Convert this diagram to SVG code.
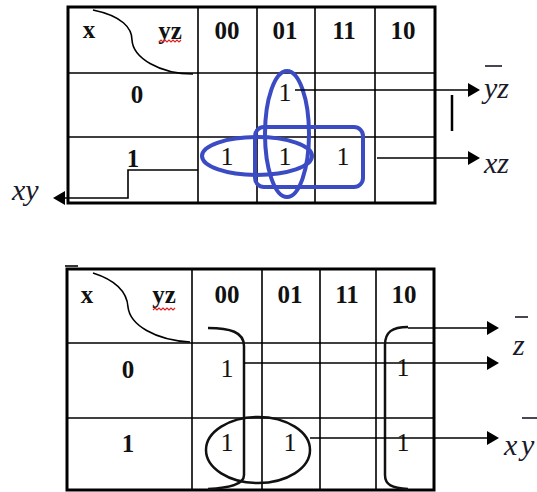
<svg xmlns="http://www.w3.org/2000/svg" width="537" height="492" viewBox="0 0 537 492">
<style>
.outer{fill:none;stroke:#000;stroke-width:3}
.grid{stroke:#000;stroke-width:1.6;fill:none}
.hdr{font-family:"Liberation Serif",serif;font-weight:bold;font-size:25px;fill:#111;text-anchor:middle}
.one{font-family:"Liberation Serif",serif;font-size:26px;fill:#111;text-anchor:middle}
.lbl{font-family:"Liberation Serif",serif;font-style:italic;font-size:30px;fill:#1a1a2a}
.blue{fill:none;stroke:#3a4bc4;stroke-width:4}
.blk{fill:none;stroke:#111;stroke-width:2.5}
.conn{stroke:#000;stroke-width:1.6;fill:none}
.wavy{fill:none;stroke:#e02020;stroke-width:1.2}
.bar{stroke:#1a1a2a;stroke-width:1.6}
</style>
<defs>
<marker id="arr" markerUnits="userSpaceOnUse" markerWidth="12" markerHeight="14" viewBox="0 0 12 14" refX="0" refY="7" orient="auto">
<path d="M0,0 L12,7 L0,14 Z" fill="#000"/>
</marker>
</defs>

<g id="kmap1">
<rect class="outer" x="68" y="7" width="367" height="196"/>
<path class="grid" d="M198,7V203M257,7V203M315,7V203M375,7V203M68,73H435M68,137H435"/>
<path class="grid" d="M93,10 C122,16 132,28 132,40 C133,58 160,74 193,74"/>
<text class="hdr" x="89" y="38">x</text>
<text class="hdr" x="170" y="39">yz</text>
<path class="wavy" d="M159,42 l2,-2 l2,2 l2,-2 l2,2 l2,-2 l2,2 l2,-2 l2,2 l2,-2 l2,2 l2,-2"/>
<text class="hdr" x="227" y="39">00</text>
<text class="hdr" x="285" y="39">01</text>
<text class="hdr" x="344" y="39">11</text>
<text class="hdr" x="403" y="39">10</text>
<text class="hdr" x="137" y="103">0</text>
<text class="hdr" x="133" y="167">1</text>
<text class="one" x="285" y="101">1</text>
<text class="one" x="227" y="165">1</text>
<text class="one" x="285" y="165">1</text>
<text class="one" x="343" y="165">1</text>
</g>

<g id="groups1">
<ellipse class="blue" cx="287" cy="134" rx="22" ry="63"/>
<ellipse class="blue" cx="257" cy="156" rx="55" ry="19"/>
<rect class="blue" x="255" y="127" width="108" height="60" rx="9"/>
</g>

<g id="kmap2">
<rect class="outer" x="67" y="269" width="367" height="221"/>
<path class="grid" d="M65,266H78"/>
<path class="grid" d="M192,269V490M262,269V490M320,269V490M376,269V490M67,343H434M67,418H434"/>
<path class="grid" d="M93,273 C115,280 127,292 128,307 C130,325 155,340 190,342"/>
<text class="hdr" x="87" y="303">x</text>
<text class="hdr" x="164" y="303">yz</text>
<path class="wavy" d="M153,310 l2,-2 l2,2 l2,-2 l2,2 l2,-2 l2,2 l2,-2 l2,2 l2,-2 l2,2 l2,-2"/>
<text class="hdr" x="227" y="303">00</text>
<text class="hdr" x="290" y="303">01</text>
<text class="hdr" x="347" y="303">11</text>
<text class="hdr" x="404" y="303">10</text>
<text class="hdr" x="128" y="378">0</text>
<text class="hdr" x="128" y="452">1</text>
<text class="one" x="227" y="377">1</text>
<text class="one" x="403" y="376">1</text>
<text class="one" x="227" y="451">1</text>
<text class="one" x="290" y="451">1</text>
<text class="one" x="403" y="451">1</text>
</g>

<g id="groups2">
<path class="blk" d="M208,328 C230,328 244,332 244,346 L244,475 C244,485 228,488 208,489"/>
<path class="blk" d="M408,327 C392,327 385,332 385,345 L385,475 C385,485 392,488 408,489"/>
<ellipse class="blk" cx="258" cy="450" rx="52" ry="33"/>
</g>

<g id="connectors">
<path class="conn" d="M295,90H468" marker-end="url(#arr)"/>
<path class="conn" d="M377,158H468" marker-end="url(#arr)"/>
<path class="conn" d="M198,170H128V198H65" marker-end="url(#arr)"/>
<path d="M452,95V131" stroke="#000" stroke-width="2.5"/>
<path class="conn" d="M408,328H487" marker-end="url(#arr)"/>
<path class="conn" d="M244,363H487" marker-end="url(#arr)"/>
<path class="conn" d="M310,438H487" marker-end="url(#arr)"/>
</g>

<g id="labels">
<text class="lbl" x="484" y="98">yz</text>
<path class="bar" d="M485,66H502"/>
<text class="lbl" x="484" y="173">xz</text>
<text class="lbl" x="12" y="200">xy</text>
<text class="lbl" x="513" y="355">z</text>
<path class="bar" d="M515,317H528"/>
<text class="lbl" x="504" y="455">x</text>
<text class="lbl" x="521" y="455">y</text>
<path class="bar" d="M522,418H537"/>
</g>
</svg>
